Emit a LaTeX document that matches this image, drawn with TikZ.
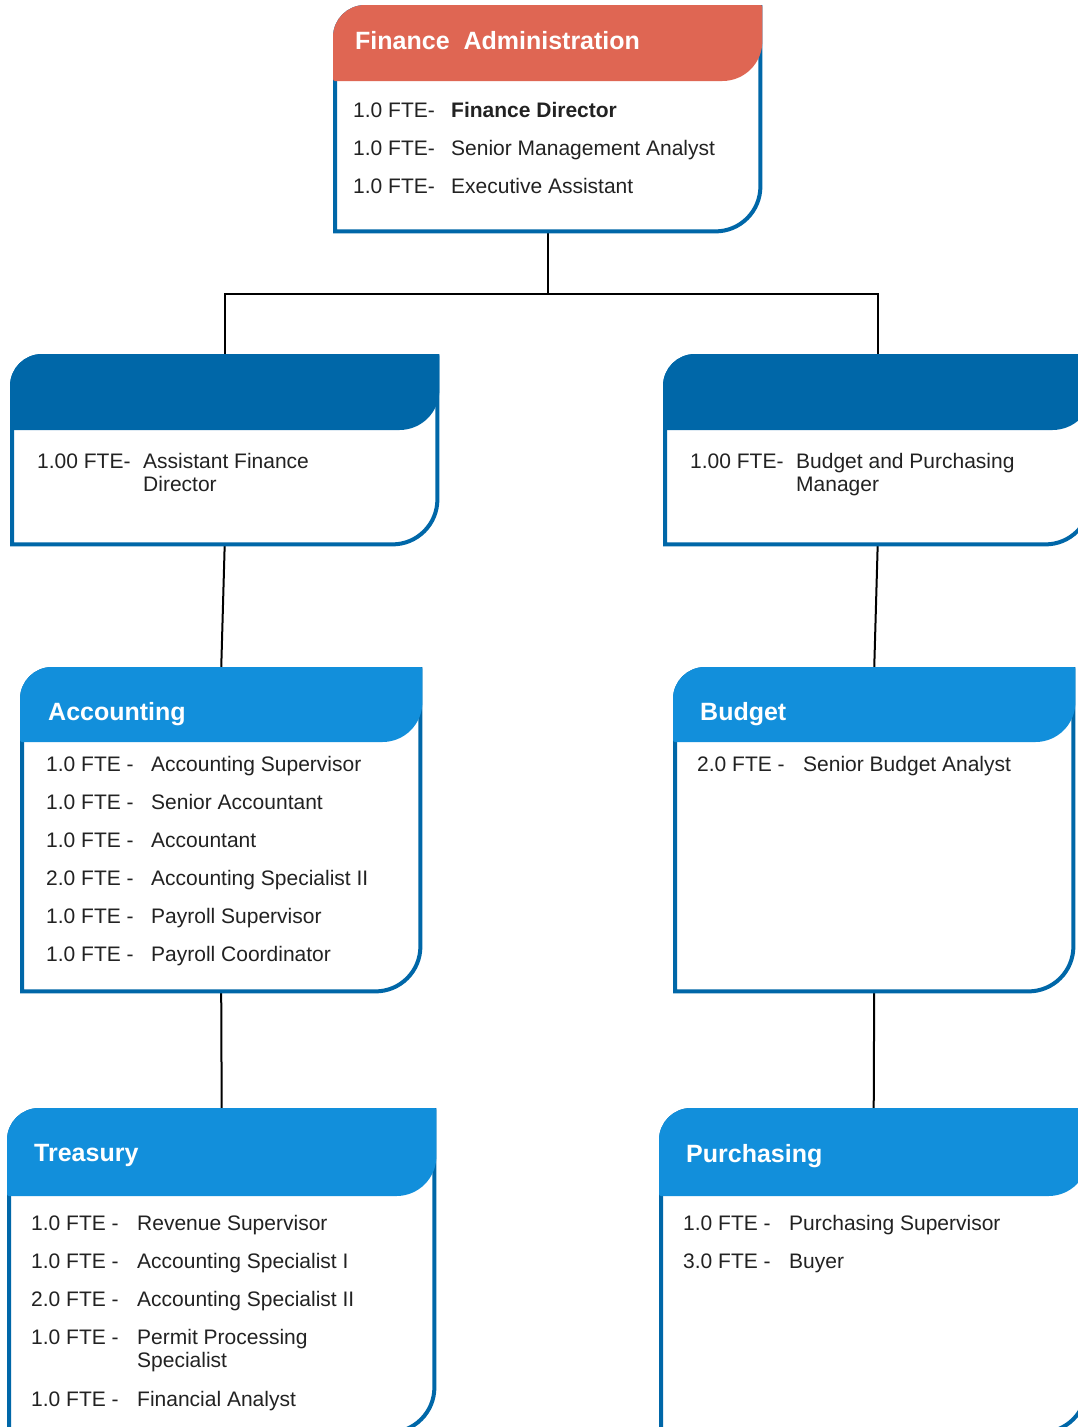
\documentclass[tikz,border=0pt]{standalone}
\usepackage{fontspec}
\setmainfont{Liberation Sans}
\usetikzlibrary{calc}
\definecolor{coral}{HTML}{DF6653}
\definecolor{navy}{HTML}{0067A8}
\definecolor{sky}{HTML}{128FDB}
\definecolor{ink}{HTML}{222222}

\begin{document}
\begin{tikzpicture}[x=1pt,y=-1pt,
  panel/.style={rectangle,inner sep=0pt,anchor=north west},
  title/.style={anchor=base west,inner sep=0pt,text=white,font=\fontsize{25}{30}\selectfont\bfseries},
  staff/.style={anchor=north west,inner sep=0pt,text=ink,font=\fontsize{21}{38}\selectfont},
  link/.style={line width=2pt,black}]
\useasboundingbox (0,0) rectangle (1078,1427);

\node[panel,minimum width=425,minimum height=224] (fa) at (335,7) {};
\node[panel,minimum width=425,minimum height=188] (afd) at (12,356) {};
\node[panel,minimum width=425,minimum height=188] (bpm) at (665,356) {};
\node[panel,minimum width=398,minimum height=322] (acc) at (22,669) {};
\node[panel,minimum width=398,minimum height=322] (bud) at (675,669) {};
\node[panel,minimum width=425,minimum height=322] (tre) at (9,1110) {};
\node[panel,minimum width=425,minimum height=322] (pur) at (661,1110) {};

% links
\draw[link] (fa.south) -- ++(0,63) -| (afd.north);
\draw[link] (fa.south) -- ++(0,63) -| (bpm.north);
\draw[link] (afd.south) -- (acc.north);
\draw[link] (bpm.south) -- (bud.north);
\draw[link] (acc.south) -- (tre.north);
\draw[link] (bud.south) -- (pur.north);

% panel outlines and headers
\foreach \n/\c/\h in {fa/coral/72,afd/navy/72,bpm/navy/72,acc/sky/71,bud/sky/71,tre/sky/84,pur/sky/84}{
  \draw[line width=4pt,navy,fill=white]
    ($(\n.north west)+(0,30)$) .. controls ($(\n.north west)+(0,13.4)$) and ($(\n.north west)+(13.4,0)$) .. ($(\n.north west)+(30,0)$)
    -- (\n.north east) -- ($(\n.south east)+(0,-45)$)
    .. controls ($(\n.south east)+(0,-20.1)$) and ($(\n.south east)+(-20.1,0)$) .. ($(\n.south east)+(-45,0)$)
    -- (\n.south west) -- cycle;
  \filldraw[\c,line width=4pt,line join=round]
    ($(\n.north west)+(0,30)$) .. controls ($(\n.north west)+(0,13.4)$) and ($(\n.north west)+(13.4,0)$) .. ($(\n.north west)+(30,0)$)
    -- (\n.north east) -- ($(\n.north east)+(0,\h-38)$)
    .. controls ($(\n.north east)+(0,\h-17)$) and ($(\n.north east)+(-17,\h)$) .. ($(\n.north east)+(-38,\h)$)
    -- ($(\n.north west)+(0,\h)$) -- cycle;
}

% titles
\node[title] (fa-title) at ($(fa.north west)+(20,42)$) {Finance\ \ Administration};
\node[title] (acc-title) at ($(acc.north west)+(26,51)$) {Accounting};
\node[title] (bud-title) at ($(bud.north west)+(25,51)$) {Budget};
\node[title] (tre-title) at ($(tre.north west)+(25,51)$) {Treasury};
\node[title] (pur-title) at ($(pur.north west)+(25,52)$) {Purchasing};

% staff lists
\node[staff] (fa-list) at ($(fa.north west)+(18,84)$) {\begin{tabular}{@{}p{98pt}@{}l@{}}
1.0 FTE- & \textbf{Finance Director}\\
1.0 FTE- & Senior Management Analyst\\
1.0 FTE- & Executive Assistant
\end{tabular}};
\node[staff] (afd-list) at ($(afd.north west)+(25,86)$) {\begin{tabular}{@{}p{106pt}@{}l@{}}
1.00 FTE- & \parbox[t]{260pt}{\fontsize{21}{23}\selectfont Assistant Finance\\Director}
\end{tabular}};
\node[staff] (bpm-list) at ($(bpm.north west)+(25,86)$) {\begin{tabular}{@{}p{106pt}@{}l@{}}
1.00 FTE- & \parbox[t]{260pt}{\fontsize{21}{23}\selectfont Budget and Purchasing\\Manager}
\end{tabular}};
\node[staff] (acc-list) at ($(acc.north west)+(24,76)$) {\begin{tabular}{@{}p{105pt}@{}l@{}}
1.0 FTE - & Accounting Supervisor\\
1.0 FTE - & Senior Accountant\\
1.0 FTE - & Accountant\\
2.0 FTE - & Accounting Specialist II\\
1.0 FTE - & Payroll Supervisor\\
1.0 FTE - & Payroll Coordinator
\end{tabular}};
\node[staff] (bud-list) at ($(bud.north west)+(22,76)$) {\begin{tabular}{@{}p{106pt}@{}l@{}}
2.0 FTE - & Senior Budget Analyst
\end{tabular}};
\node[staff] (tre-list) at ($(tre.north west)+(22,94)$) {\begin{tabular}{@{}p{106pt}@{}l@{}}
1.0 FTE - & Revenue Supervisor\\
1.0 FTE - & Accounting Specialist I\\
2.0 FTE - & Accounting Specialist II\\
1.0 FTE - & \parbox[t]{260pt}{\fontsize{21}{23}\selectfont Permit Processing\\Specialist}\\[24pt]
1.0 FTE - & Financial Analyst
\end{tabular}};
\node[staff] (pur-list) at ($(pur.north west)+(22,94)$) {\begin{tabular}{@{}p{106pt}@{}l@{}}
1.0 FTE - & Purchasing Supervisor\\
3.0 FTE - & Buyer
\end{tabular}};
\end{tikzpicture}
\end{document}
